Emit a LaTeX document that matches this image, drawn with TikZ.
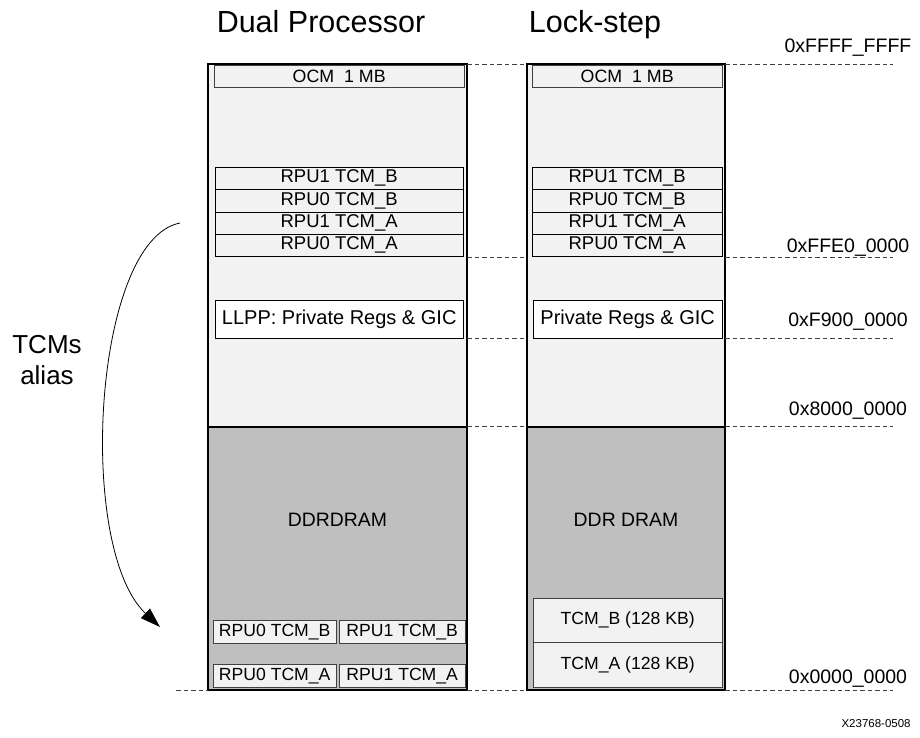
\documentclass[tikz,border=0pt]{standalone}
\usepackage{fontspec}
\setmainfont{Liberation Sans}
\usetikzlibrary{arrows.meta, positioning}
\definecolor{upfill}{HTML}{F2F2F2}
\definecolor{ddrfill}{HTML}{BFBFBF}
\definecolor{rowline}{HTML}{404040}

\begin{document}
\begin{tikzpicture}[x=1pt, y=-1pt,
  title/.style={anchor=base, font=\fontsize{30.5}{33}\selectfont},
  addr/.style={anchor=base, font=\fontsize{19.5}{22}\selectfont},
  ocmbox/.style={draw=rowline, fill=upfill, inner sep=0, minimum height=22pt, anchor=north west, font=\fontsize{17.8}{19}\selectfont},
  tcmrow/.style={draw=black, fill=upfill, inner sep=0, minimum height=22.25pt, anchor=north west, font=\fontsize{18.5}{19}\selectfont},
  regbox/.style={draw=black, fill=white, inner sep=0, minimum height=38pt, anchor=north west, font=\fontsize{20}{22}\selectfont},
  lowbox/.style={draw=rowline, fill=upfill, inner sep=0, anchor=north west, font=\fontsize{17.6}{19}\selectfont},
  colline/.style={line width=2pt},
  guide/.style={dashed, dash pattern=on 4.5pt off 3pt, line width=0.7pt, black!75}]

\path[use as bounding box] (0,0) rectangle (920,738);

\def\dpL{208}
\def\dpR{467}
\def\lsL{527}
\def\lsR{725}
\def\ytop{64}
\def\ymid{427}
\def\ybot{690}

% the two memory columns
\fill[upfill] (\dpL,\ytop) rectangle (\dpR,\ymid);
\fill[ddrfill] (\dpL,\ymid) rectangle (\dpR,\ybot);
\fill[upfill] (\lsL,\ytop) rectangle (\lsR,\ymid);
\fill[ddrfill] (\lsL,\ymid) rectangle (\lsR,\ybot);

\node[title] (dptitle) at (321,33) {Dual Processor};
\node[title] (lstitle) at (595,33) {Lock-step};

\node[ocmbox, minimum width=250pt] (dpocm) at (214,65) {OCM~~1 MB};
\node[ocmbox, minimum width=190pt] (lsocm) at (532,65) {OCM~~1 MB};

\foreach \lbl [count=\i] in {RPU1 TCM\_B, RPU0 TCM\_B, RPU1 TCM\_A, RPU0 TCM\_A} {
  \node[tcmrow, minimum width=248pt] (dptcm\i) at (215,{167+(\i-1)*22.25}) {\lbl};
  \node[tcmrow, minimum width=190pt] (lstcm\i) at (532,{167+(\i-1)*22.25}) {\lbl};
}

\node[regbox, minimum width=248pt] (dpregs) at (215,300) {LLPP: Private Regs \& GIC};
\node[regbox, minimum width=189pt] (lsregs) at (533,300) {Private Regs \& GIC};

\node[font=\fontsize{19.4}{21}\selectfont] (dpddr) at (337.5,520) {DDRDRAM};
\node[font=\fontsize{19.4}{21}\selectfont] (lsddr) at (626,520) {DDR DRAM};

% tcm copies at the bottom
\node[lowbox, minimum width=123pt, minimum height=23pt] (dpb0) at (213,620) {RPU0 TCM\_B};
\node[lowbox, minimum width=126pt, minimum height=23pt] (dpb1) at (339,620) {RPU1 TCM\_B};
\node[lowbox, minimum width=123pt, minimum height=23pt] (dpa0) at (213,664) {RPU0 TCM\_A};
\node[lowbox, minimum width=126pt, minimum height=23pt] (dpa1) at (339,664) {RPU1 TCM\_A};
\node[lowbox, minimum width=189pt, minimum height=44pt] (lstcmb) at (533,598) {TCM\_B (128 KB)};
\node[lowbox, minimum width=189pt, minimum height=45pt] (lstcma) at (533,642) {TCM\_A (128 KB)};

\draw[colline] (\dpL,\ymid) -- (\dpR,\ymid);
\draw[colline] (\lsL,\ymid) -- (\lsR,\ymid);
\draw[colline] (\dpL,\ytop) rectangle (\dpR,\ybot);
\draw[colline] (\lsL,\ytop) rectangle (\lsR,\ybot);

% address guides
\foreach \y/\ly/\addr in {64/53/0xFFFF\_FFFF, 257/252/0xFFE0\_0000, 338/326/0xF900\_0000, 426/415/0x8000\_0000, 690/683/0x0000\_0000} {
  \draw[guide] (\dpR,\y) -- (\lsL,\y);
  \draw[guide] (\lsR,\y) -- (893,\y);
  \node[addr] at (848,\ly) {\addr};
}
\draw[guide] (176,\ybot) -- (\dpL,\ybot);

% alias arrow
\coordinate (aliasfrom) at (180,223);
\coordinate (aliasto) at (160,627);
\draw[line width=0.8pt, -{Triangle[length=20pt, width=13pt]}] (aliasfrom) .. controls (93,240) and (76,548) .. (aliasto);
\node[font=\fontsize{26}{31}\selectfont, align=center] (aliastext) at (47,360) {TCMs\\alias};

\node[anchor=base west, font=\fontsize{11.5}{12}\selectfont] (figid) at (838,727) {X23768-0508};

\end{tikzpicture}
\end{document}
